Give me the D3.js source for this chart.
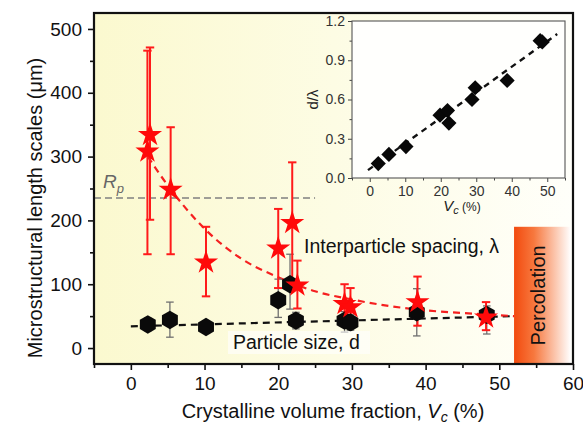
<!DOCTYPE html>
<html><head><meta charset="utf-8">
<script src="https://cdn.jsdelivr.net/npm/d3@7"></script>
<style>
body{margin:0;background:#fff}
text{font-family:"Liberation Sans",Arial,Helvetica,sans-serif}
</style>
</head><body>
<svg id="c" width="583" height="428"></svg>
<script>
// ---------- data ----------
const xTicks = [0, 10, 20, 30, 40, 50, 60];
const xMinor = [-5, 5, 15, 25, 35, 45, 55];
const yTicks = [0, 100, 200, 300, 400, 500];
const yMinor = [50, 150, 250, 350, 450];

// interparticle spacing lambda (red stars)
const lamX  = [2.25, 2.6, 5.4, 10.2, 20.0, 21.9, 22.6, 29.0, 29.8, 38.9, 48.2];
const lamY  = [308, 334, 248, 134, 156, 196, 98, 69, 64, 72, 48];
const lamLo = [147, 201, 147, 81, 94, 100, 62, 45, 33, 35, 28];
const lamHi = [466, 471, 346, 190, 218, 291, 137, 100, 94, 112, 72];

// particle size d (black hexagons)
const dX  = [2.3, 5.3, 10.2, 20.0, 21.6, 22.4, 29.0, 29.8, 38.8, 48.3];
const dY  = [37, 44, 33, 75, 100, 43, 43, 40, 56, 52];
const dLo = [27, 17, 27, 48, 61, 30, 25, 28, 19, 22];
const dHi = [47, 72, 39, 108, 147, 56, 57, 52, 93, 66];

// fit lines
const lamFitX = [2.3, 5, 10, 15, 20, 25, 30, 35, 40, 45, 52];
const lamFitY = [300, 255, 187, 140, 111, 89, 76, 66, 59, 55, 50];
const dFitX = [0, 52];
const dFitY = [34, 50];

// R_p reference
const rpY = 235;
const rpX = [-5, 25];

// percolation region
const percX = [52, 59.7];
const percY = [-25, 190];

// inset d/lambda
const inXTicks = [0, 10, 20, 30, 40, 50];
const inXMinor = [-5, 5, 15, 25, 35, 45, 55];
const inYTicks = [0, 0.3, 0.6, 0.9, 1.2];
const inYMinor = [0.15, 0.45, 0.75, 1.05];
const ratioX = [2.4, 5.4, 10.2, 19.8, 21.9, 22.3, 28.8, 29.7, 38.7, 48.0, 48.6];
const ratioY = [0.11, 0.18, 0.24, 0.48, 0.515, 0.42, 0.60, 0.69, 0.745, 1.05, 1.04];
const ratioFitX = [-0.5, 52.8];
const ratioFitY = [0.06, 1.10];

// ---------- drawing ----------
const svg = d3.select("#c");
const defs = svg.append("defs");

const bg = defs.append("linearGradient").attr("id", "bg").attr("x1", 0).attr("x2", 1).attr("y1", 0).attr("y2", 0);
bg.append("stop").attr("offset", "0%").attr("stop-color", "#fbf9cf");
bg.append("stop").attr("offset", "50%").attr("stop-color", "#fdfce4");
bg.append("stop").attr("offset", "100%").attr("stop-color", "#fffffa");

const pg = defs.append("linearGradient").attr("id", "perc").attr("x1", 0).attr("x2", 1).attr("y1", 0).attr("y2", 0);
pg.append("stop").attr("offset", "0%").attr("stop-color", "#f24a0e");
pg.append("stop").attr("offset", "35%").attr("stop-color", "#f7783e");
pg.append("stop").attr("offset", "100%").attr("stop-color", "#ffffff");

const x = d3.scaleLinear().domain([-5, 60]).range([94, 573]);
const y = d3.scaleLinear().domain([-25, 525]).range([364, 13]);

// plot background
svg.append("rect").attr("x", x(-5)).attr("y", y(525))
  .attr("width", x(60) - x(-5)).attr("height", y(-25) - y(525))
  .attr("fill", "url(#bg)");

// percolation box
svg.append("rect").attr("x", x(percX[0])).attr("y", y(percY[1]))
  .attr("width", x(percX[1]) - x(percX[0])).attr("height", y(percY[0]) - y(percY[1]))
  .attr("fill", "url(#perc)");
svg.append("text")
  .attr("transform", `translate(${x(55.2)},${y((percY[0] + percY[1]) / 2)}) rotate(-90)`)
  .attr("text-anchor", "middle").attr("dominant-baseline", "central")
  .attr("font-size", 20).attr("fill", "#111").text("Percolation");

// Rp line
svg.append("line").attr("x1", x(rpX[0])).attr("x2", x(rpX[1]))
  .attr("y1", y(rpY)).attr("y2", y(rpY))
  .attr("stroke", "#808080").attr("stroke-width", 1.6).attr("stroke-dasharray", "7,4");
const rp = svg.append("text").attr("x", 103).attr("y", y(rpY) - 10)
  .attr("font-size", 19).attr("fill", "#666").attr("font-style", "italic");
rp.append("tspan").text("R");
rp.append("tspan").attr("font-size", 13).attr("dy", 5).text("p");

// fit lines
const line = d3.line().x(d => x(d[0])).y(d => y(d[1]));
svg.append("path").datum(dFitX.map((v, i) => [v, dFitY[i]]))
  .attr("d", line).attr("fill", "none").attr("stroke", "#111")
  .attr("stroke-width", 2.2).attr("stroke-dasharray", "7,5");
svg.append("path").datum(lamFitX.map((v, i) => [v, lamFitY[i]]))
  .attr("d", line.curve(d3.curveMonotoneX)).attr("fill", "none").attr("stroke", "#f52020")
  .attr("stroke-width", 2.2).attr("stroke-dasharray", "7,5");

// error bars
function errBars(xs, lo, hi, color, w, cap) {
  const g = svg.append("g").attr("stroke", color).attr("stroke-width", w);
  xs.forEach((v, i) => {
    g.append("line").attr("x1", x(v)).attr("x2", x(v)).attr("y1", y(lo[i])).attr("y2", y(hi[i]));
    [lo[i], hi[i]].forEach(e => g.append("line")
      .attr("x1", x(v) - cap).attr("x2", x(v) + cap).attr("y1", y(e)).attr("y2", y(e)));
  });
}
errBars(dX, dLo, dHi, "#707070", 1.3, 3.8);
errBars(lamX, lamLo, lamHi, "#ff1a1a", 2, 4.2);

// hexagons (pointy top)
const hexType = {
  draw(ctx, size) {
    const r = Math.sqrt(size / (1.5 * Math.sqrt(3)));
    for (let k = 0; k < 6; k++) {
      const a = Math.PI / 3 * k + Math.PI / 6;
      const px = r * Math.cos(a), py = r * Math.sin(a);
      if (k === 0) ctx.moveTo(px, py); else ctx.lineTo(px, py);
    }
    ctx.closePath();
  }
};
const hexSym = d3.symbol().type(hexType).size(1.5 * Math.sqrt(3) * 9.2 * 9.2);
svg.append("g").selectAll("path").data(dX).join("path")
  .attr("transform", (d, i) => `translate(${x(d)},${y(dY[i])})`)
  .attr("d", hexSym).attr("fill", "#0a0a0a");

// stars
const starSym = d3.symbol().type(d3.symbolStar).size(180);
svg.append("g").selectAll("path").data(lamX).join("path")
  .attr("transform", (d, i) => `translate(${x(d)},${y(lamY[i])})`)
  .attr("d", starSym).attr("fill", "#ff0a0a");

// labels inside plot
svg.append("text").attr("x", 304).attr("y", 253).attr("font-size", 19.5)
  .attr("fill", "#111").text("Interparticle spacing, λ");
svg.append("rect").attr("x", 228).attr("y", 331).attr("width", 142).attr("height", 23)
  .attr("fill", "#ffffff").attr("opacity", 0.6);
svg.append("text").attr("x", 233).attr("y", 349).attr("font-size", 19.5)
  .attr("fill", "#111").text("Particle size, d");

// axes
const xAxis = svg.append("g").attr("transform", `translate(0,${y(-25)})`)
  .call(d3.axisBottom(x).tickValues(xTicks).tickSize(6).tickSizeOuter(0).tickPadding(7));
svg.append("g").attr("transform", `translate(0,${y(-25)})`)
  .call(d3.axisBottom(x).tickValues(xMinor).tickSize(4).tickFormat("").tickSizeOuter(0));
const yAxis = svg.append("g").attr("transform", `translate(${x(-5)},0)`)
  .call(d3.axisLeft(y).tickValues(yTicks).tickSize(6).tickSizeOuter(0).tickPadding(6));
svg.append("g").attr("transform", `translate(${x(-5)},0)`)
  .call(d3.axisLeft(y).tickValues(yMinor).tickSize(4).tickFormat("").tickSizeOuter(0));
svg.selectAll(".domain").remove();
svg.selectAll(".tick line").attr("stroke", "#111").attr("stroke-width", 1.6);
xAxis.selectAll("text").attr("font-size", 19).attr("fill", "#111").attr("font-family", "Liberation Sans, Arial, sans-serif");
yAxis.selectAll("text").attr("font-size", 19).attr("fill", "#111").attr("font-family", "Liberation Sans, Arial, sans-serif");

// frame
svg.append("rect").attr("x", x(-5)).attr("y", y(525))
  .attr("width", x(60) - x(-5)).attr("height", y(-25) - y(525))
  .attr("fill", "none").attr("stroke", "#111").attr("stroke-width", 2.2);

// axis titles
const xt = svg.append("text").attr("x", 333).attr("y", 418).attr("text-anchor", "middle")
  .attr("font-size", 20).attr("fill", "#111");
xt.append("tspan").text("Crystalline volume fraction,  ");
xt.append("tspan").attr("font-style", "italic").text("V");
xt.append("tspan").attr("font-style", "italic").attr("font-size", 14).attr("dy", 4).text("c");
xt.append("tspan").attr("dy", -4).text("  (%)");

svg.append("text").attr("transform", `translate(42,${208}) rotate(-90)`)
  .attr("text-anchor", "middle").attr("font-size", 20).attr("fill", "#111")
  .text("Microstructural length scales (μm)");

// ---------- inset ----------
const ix = d3.scaleLinear().domain([-5, 55]).range([352, 565]);
const iy = d3.scaleLinear().domain([0, 1.2]).range([178, 21]);

svg.append("rect").attr("x", ix(-5)).attr("y", iy(1.2))
  .attr("width", ix(55) - ix(-5)).attr("height", iy(0) - iy(1.2))
  .attr("fill", "#fffffd");

const ixa = svg.append("g").attr("transform", `translate(0,${iy(0)})`)
  .call(d3.axisBottom(ix).tickValues(inXTicks).tickSize(4).tickSizeOuter(0).tickPadding(4));
const ixm = svg.append("g").attr("transform", `translate(0,${iy(0)})`)
  .call(d3.axisBottom(ix).tickValues(inXMinor).tickSize(2.5).tickFormat("").tickSizeOuter(0));
const iya = svg.append("g").attr("transform", `translate(${ix(-5)},0)`)
  .call(d3.axisLeft(iy).tickValues(inYTicks).tickSize(4).tickSizeOuter(0).tickPadding(3)
    .tickFormat(d3.format(".1f")));
const iym = svg.append("g").attr("transform", `translate(${ix(-5)},0)`)
  .call(d3.axisLeft(iy).tickValues(inYMinor).tickSize(2.5).tickFormat("").tickSizeOuter(0));
[ixa, ixm, iya, iym].forEach(g => {
  g.select(".domain").remove();
  g.selectAll(".tick line").attr("stroke", "#444").attr("stroke-width", 1);
  g.selectAll("text").attr("font-size", 14).attr("fill", "#333")
    .attr("font-family", "Liberation Sans, Arial, sans-serif");
});

svg.append("rect").attr("x", ix(-5)).attr("y", iy(1.2))
  .attr("width", ix(55) - ix(-5)).attr("height", iy(0) - iy(1.2))
  .attr("fill", "none").attr("stroke", "#555").attr("stroke-width", 1.1);

svg.append("path").datum(ratioFitX.map((v, i) => [v, ratioFitY[i]]))
  .attr("d", d3.line().x(d => ix(d[0])).y(d => iy(d[1])))
  .attr("fill", "none").attr("stroke", "#111").attr("stroke-width", 2.4)
  .attr("stroke-dasharray", "6,5");

const diam = d3.symbol().type(d3.symbolSquare).size(115);
svg.append("g").selectAll("path").data(ratioX).join("path")
  .attr("transform", (d, i) => `translate(${ix(d)},${iy(ratioY[i])}) rotate(45)`)
  .attr("d", diam).attr("fill", "#080808");

svg.append("text").attr("transform", `translate(318,${iy(0.6)}) rotate(-90)`)
  .attr("text-anchor", "middle").attr("font-size", 15).attr("fill", "#222")
  .text("d/λ");

const ivt = svg.append("text").attr("x", 462).attr("y", 211).attr("text-anchor", "middle")
  .attr("fill", "#222");
ivt.append("tspan").attr("font-size", 15).attr("font-style", "italic").text("V");
ivt.append("tspan").attr("font-size", 11).attr("font-style", "italic").attr("dy", 3).text("c");
ivt.append("tspan").attr("font-size", 12).attr("dy", -3).text(" (%)");
</script>
</body></html>
